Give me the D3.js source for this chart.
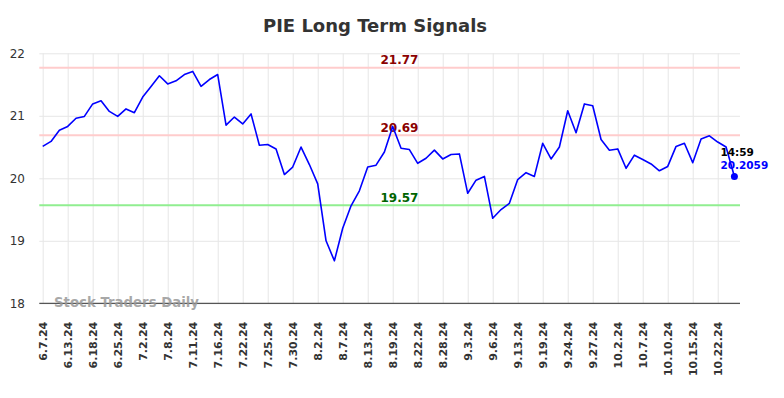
<!DOCTYPE html>
<html>
<head>
<meta charset="utf-8">
<script src="https://cdn.jsdelivr.net/npm/d3@7"></script>
<style>
  body { margin: 0; background: #fff; }
  svg { display: block; font-family: "DejaVu Sans", sans-serif; }
</style>
</head>
<body>
<div id="vis"></div>
<script>
// tick labels, one every 3 data points
var tickLabels = ["6.7.24", "6.13.24", "6.18.24", "6.25.24", "7.2.24", "7.8.24", "7.11.24",
  "7.16.24", "7.22.24", "7.25.24", "7.30.24", "8.2.24", "8.7.24", "8.13.24", "8.19.24",
  "8.22.24", "8.28.24", "9.3.24", "9.6.24", "9.13.24", "9.19.24", "9.24.24", "9.27.24",
  "10.2.24", "10.7.24", "10.10.24", "10.15.24", "10.22.24"];

// closing prices
var prices = [20.51, 20.59, 20.77, 20.83, 20.96, 20.99, 21.19, 21.24, 21.07, 20.99,
  21.11, 21.05, 21.30, 21.47, 21.64, 21.51, 21.56, 21.66, 21.71, 21.47,
  21.58, 21.66, 20.85, 20.98, 20.87, 21.03, 20.53, 20.54, 20.47, 20.06,
  20.18, 20.50, 20.22, 19.91, 19.00, 18.68, 19.20, 19.56, 19.80, 20.18,
  20.21, 20.42, 20.83, 20.48, 20.46, 20.24, 20.32, 20.45, 20.31, 20.38,
  20.39, 19.76, 19.97, 20.03, 19.36, 19.50, 19.60, 19.98, 20.09, 20.03,
  20.56, 20.31, 20.50, 21.08, 20.73, 21.19, 21.16, 20.62, 20.45, 20.47,
  20.16, 20.37, 20.30, 20.23, 20.12, 20.19, 20.51, 20.56, 20.25, 20.63,
  20.68, 20.58, 20.50, 20.03];

var levelValues = [21.77, 20.69, 19.57];
var levelKinds = ["resistance", "resistance", "support"];
var yTicks = [18, 19, 20, 21, 22];
var lastTime = "14:59";
var lastPriceText = "20.2059";

function drawChart() {
  var width = 784;
  var height = 398;
  var plotLeft = 39.3, plotRight = 740, plotTop = 53.3, plotBottom = 303.3;

  var levelStyle = {
    "resistance": { line: "#ffcccc", text: "#8b0000" },
    "support": { line: "#90ee90", text: "#006400" }
  };

  var svg = d3.select('#vis').append('svg')
    .attr('width', width)
    .attr('height', height);

  var x = d3.scaleLinear()
    .domain([0, prices.length - 1])
    .range([42.7, 734.4]);

  var y = d3.scaleLinear()
    .domain([18, 22])
    .range([plotBottom, plotTop]);

  var tickIdx = tickLabels.map(function (d, i) { return i * 3; });

  // vertical grid
  svg.append('g')
    .attr('transform', 'translate(0,' + plotBottom + ')')
    .call(d3.axisBottom(x).tickValues(tickIdx).tickSize(-(plotBottom - plotTop)).tickFormat(''))
    .call(function (g) { g.select('.domain').remove(); })
    .selectAll('line').attr('stroke', '#e6e6e6');

  // horizontal grid
  svg.append('g')
    .attr('transform', 'translate(' + plotLeft + ',0)')
    .call(d3.axisLeft(y).tickValues(yTicks).tickSize(-(plotRight - plotLeft)).tickFormat(''))
    .call(function (g) { g.select('.domain').remove(); })
    .selectAll('line').attr('stroke', '#e6e6e6');

  // y labels
  svg.append('g')
    .attr('transform', 'translate(25,0)')
    .call(d3.axisLeft(y).tickValues(yTicks).tickSize(0).tickPadding(0).tickFormat(d3.format('d')))
    .call(function (g) { g.select('.domain').remove(); })
    .selectAll('text')
    .attr('font-size', '12px')
    .attr('font-family', '"DejaVu Sans", sans-serif')
    .attr('fill', '#333');

  // x labels, rotated
  svg.append('g')
    .attr('transform', 'translate(0,' + plotBottom + ')')
    .call(d3.axisBottom(x).tickValues(tickIdx).tickSize(0)
      .tickFormat(function (d) { return tickLabels[d / 3]; }))
    .call(function (g) { g.select('.domain').remove(); })
    .selectAll('text')
    .attr('transform', 'rotate(-90)')
    .attr('x', -18.5)
    .attr('y', 0)
    .attr('dy', '0.35em')
    .attr('text-anchor', 'end')
    .attr('font-size', '11px')
    .attr('font-weight', 'bold')
    .attr('font-family', '"DejaVu Sans", sans-serif')
    .attr('fill', '#333');

  // support / resistance lines
  levelValues.forEach(function (v, i) {
    var st = levelStyle[levelKinds[i]];
    svg.append('line')
      .attr('x1', plotLeft).attr('x2', plotRight)
      .attr('y1', y(v)).attr('y2', y(v))
      .attr('stroke', st.line)
      .attr('stroke-width', 2);
    svg.append('text')
      .attr('x', 399.5)
      .attr('y', y(v) - 3.5)
      .attr('text-anchor', 'middle')
      .attr('font-size', '12px')
      .attr('font-weight', 'bold')
      .attr('fill', st.text)
      .text(v.toFixed(2));
  });

  // price line
  var line = d3.line()
    .x(function (d, i) { return x(i); })
    .y(function (d) { return y(d); });

  svg.append('path')
    .datum(prices)
    .attr('d', line)
    .attr('fill', 'none')
    .attr('stroke', '#0000ff')
    .attr('stroke-width', 1.6)
    .attr('stroke-linejoin', 'round');

  // x axis line
  svg.append('line')
    .attr('x1', plotLeft).attr('x2', plotRight)
    .attr('y1', plotBottom).attr('y2', plotBottom)
    .attr('stroke', '#555')
    .attr('stroke-width', 1.2);

  // watermark
  svg.append('text')
    .attr('x', 54)
    .attr('y', 307)
    .attr('font-size', '13.3px')
    .attr('font-weight', 'bold')
    .attr('fill', '#999')
    .attr('fill-opacity', 0.85)
    .text('Stock Traders Daily');

  // last point
  var lastI = prices.length - 1;
  var lx = x(lastI), ly = y(prices[lastI]);
  svg.append('circle')
    .attr('cx', lx).attr('cy', ly)
    .attr('r', 3.5)
    .attr('fill', '#0000ff');
  svg.append('text')
    .attr('x', lx - 14).attr('y', ly - 20)
    .attr('font-size', '10.5px')
    .attr('font-weight', 'bold')
    .attr('fill', '#000')
    .text(lastTime);
  svg.append('text')
    .attr('x', lx - 14).attr('y', ly - 7.5)
    .attr('font-size', '10.5px')
    .attr('font-weight', 'bold')
    .attr('fill', '#0000ff')
    .text(lastPriceText);

  // title
  svg.append('text')
    .attr('x', 375)
    .attr('y', 32.3)
    .attr('text-anchor', 'middle')
    .attr('font-size', '18px')
    .attr('font-weight', 'bold')
    .attr('fill', '#333')
    .text('PIE Long Term Signals');
}

drawChart();
</script>
</body>
</html>
